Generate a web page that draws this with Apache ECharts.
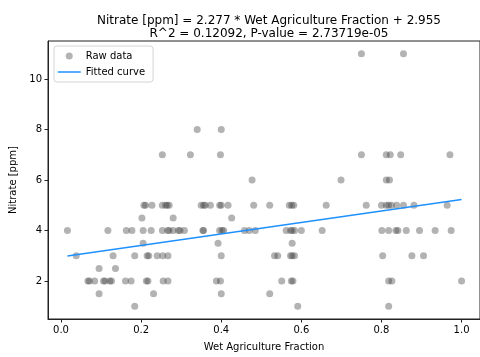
<!DOCTYPE html>
<html>
<head>
<meta charset="utf-8">
<script src="https://cdn.jsdelivr.net/npm/echarts@6/dist/echarts.min.js"></script>
<style>
html,body{margin:0;padding:0;background:#fff;}
#chart{width:480px;height:357px;}
</style>
</head>
<body>
<div id="chart"></div>
<script>
// Nitrate levels (ppm) and the wet agriculture fractions observed at each level
const nitrateLevels = [11, 8, 7, 6, 5, 4.5, 4, 3.5, 3, 2.5, 2, 1.5, 1];
const fractionsAt11 = [0.750, 0.855];
const fractionsAt8 = [0.340, 0.400];
const fractionsAt7 = [0.253, 0.323, 0.398, 0.750, 0.812, 0.822, 0.848, 0.971];
const fractionsAt6 = [0.477, 0.699, 0.812, 0.820];
const fractionsAt5 = [0.207, 0.211, 0.227, 0.253, 0.261, 0.265, 0.270, 0.350, 0.356, 0.360, 0.373, 0.396, 0.400, 0.417, 0.481, 0.521, 0.570, 0.576, 0.581, 0.662, 0.762, 0.800, 0.812, 0.818, 0.825, 0.838, 0.855, 0.881, 0.964];
const fractionsAt45 = [0.202, 0.280, 0.426];
const fractionsAt4 = [0.016, 0.117, 0.163, 0.177, 0.205, 0.225, 0.253, 0.266, 0.270, 0.280, 0.293, 0.297, 0.308, 0.354, 0.356, 0.396, 0.402, 0.406, 0.458, 0.470, 0.485, 0.562, 0.573, 0.577, 0.583, 0.600, 0.652, 0.801, 0.818, 0.836, 0.841, 0.862, 0.895, 0.934, 0.974];
const fractionsAt35 = [0.205, 0.392, 0.577];
const fractionsAt3 = [0.038, 0.130, 0.184, 0.215, 0.219, 0.240, 0.254, 0.267, 0.400, 0.533, 0.541, 0.573, 0.577, 0.583, 0.803, 0.876, 0.905];
const fractionsAt25 = [0.095, 0.136];
const fractionsAt2 = [0.067, 0.071, 0.084, 0.106, 0.110, 0.122, 0.126, 0.161, 0.175, 0.213, 0.217, 0.255, 0.267, 0.388, 0.398, 0.551, 0.575, 0.579, 0.818, 0.826, 1.000];
const fractionsAt15 = [0.095, 0.231, 0.400, 0.521];
const fractionsAt1 = [0.184, 0.591, 0.818];
const fractionsByLevel = [fractionsAt11, fractionsAt8, fractionsAt7, fractionsAt6, fractionsAt5, fractionsAt45, fractionsAt4, fractionsAt35, fractionsAt3, fractionsAt25, fractionsAt2, fractionsAt15, fractionsAt1];

// Fitted line end points
const fitX = [0.016, 1.0];
const fitY = [2.991, 5.232];

// Tick labels
const xTicks = [0.0, 0.2, 0.4, 0.6, 0.8, 1.0];
const yTicks = [2, 4, 6, 8, 10];

const titleText = 'Nitrate [ppm] = 2.277 * Wet Agriculture Fraction + 2.955\nR^2 = 0.12092, P-value = 2.73719e-05';

const rawData = [];
nitrateLevels.forEach((lvl, i) => {
  fractionsByLevel[i].forEach(f => rawData.push([f, lvl]));
});
const fitData = fitX.map((x, i) => [x, fitY[i]]);

const font = 'DejaVu Sans';
const chart = echarts.init(document.getElementById('chart'));
chart.setOption({
  animation: false,
  backgroundColor: '#fff',
  title: {
    text: titleText,
    left: 264,
    top: 9,
    textAlign: 'center',
    textStyle: {fontFamily: font, fontSize: 12, fontWeight: 'normal', color: '#000', lineHeight: 13.5}
  },
  legend: {
    orient: 'vertical',
    left: 54,
    top: 46,
    itemWidth: 23,
    itemHeight: 7,
    itemGap: 6,
    padding: [5, 8, 5, 3],
    borderColor: '#d4d4d4',
    borderWidth: 1,
    borderRadius: 3,
    backgroundColor: 'rgba(255,255,255,0.8)',
    textStyle: {fontFamily: font, fontSize: 10, color: '#000'},
    data: [
      {name: 'Raw data', icon: 'circle'},
      {name: 'Fitted curve', itemStyle: {opacity: 0}, lineStyle: {color: '#1E90FF', width: 1.5}}
    ]
  },
  grid: {left: 48, top: 41, width: 432, height: 284, show: true, borderColor: '#222', borderWidth: 1, containLabel: false},
  xAxis: {
    type: 'value',
    min: -0.0325,
    max: 1.046,
    name: 'Wet Agriculture Fraction',
    nameLocation: 'middle',
    nameGap: 23,
    nameTextStyle: {fontFamily: font, fontSize: 10, color: '#000'},
    axisLine: {show: true, onZero: false, lineStyle: {color: '#222', width: 1}},
    splitLine: {show: false},
    axisTick: {show: true, inside: false, length: 3.5, lineStyle: {color: '#222'}, customValues: xTicks},
    axisLabel: {fontFamily: font, fontSize: 10, color: '#000', margin: 6, customValues: xTicks,
      formatter: v => v.toFixed(1), showMinLabel: true, showMaxLabel: true}
  },
  yAxis: {
    type: 'value',
    min: 0.5,
    max: 11.5,
    name: 'Nitrate [ppm]',
    nameLocation: 'middle',
    nameGap: 22,
    nameRotate: 90,
    nameTextStyle: {fontFamily: font, fontSize: 10, color: '#000'},
    axisLine: {show: true, onZero: false, lineStyle: {color: '#222', width: 1}},
    splitLine: {show: false},
    axisTick: {show: true, inside: false, length: 3.5, lineStyle: {color: '#222'}, customValues: yTicks},
    axisLabel: {fontFamily: font, fontSize: 10, color: '#000', margin: 6, customValues: yTicks}
  },
  series: [
    {
      name: 'Raw data',
      type: 'scatter',
      data: rawData,
      symbol: 'circle',
      symbolSize: 7,
      itemStyle: {color: 'rgba(64,64,64,0.5)'},
      z: 2
    },
    {
      name: 'Fitted curve',
      type: 'line',
      data: fitData,
      symbol: 'none',
      showSymbol: false,
      lineStyle: {color: '#1E90FF', width: 1.5},
      itemStyle: {color: '#1E90FF'},
      z: 3
    }
  ]
});
</script>
</body>
</html>
